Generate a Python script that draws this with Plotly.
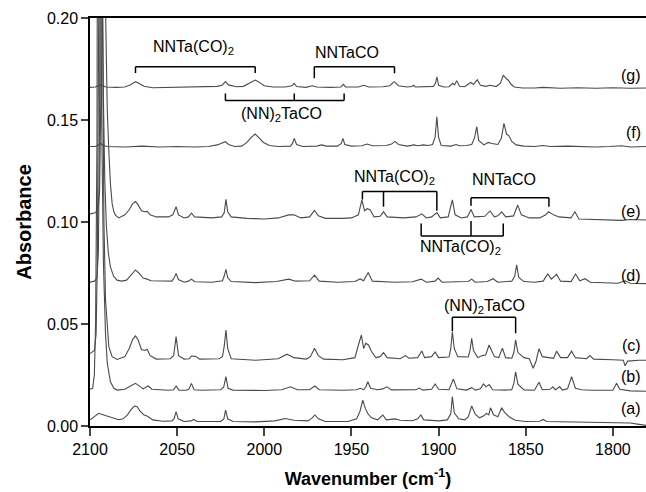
import plotly.graph_objects as go

# ---------------- data (wavenumber cm-1, absorbance) ----------------
spec_a = [(2100, 0.003), (2097.5, 0.0045), (2095, 0.0062), (2093.5, 0.0058), (2092, 0.0054), (2090, 0.0048),
          (2088.3, 0.0044), (2085.5, 0.0035), (2083.5, 0.0031), (2081, 0.0035), (2078.5, 0.0055), (2076.5, 0.008),
          (2074.5, 0.0098), (2073, 0.0095), (2071, 0.007), (2069.2, 0.0055), (2067, 0.0048), (2064, 0.003),
          (2058, 0.0023), (2053, 0.0025), (2051.8, 0.0035), (2050.6, 0.007), (2049.4, 0.0035), (2046, 0.0022),
          (2042, 0.0025), (2040.5, 0.0032), (2038.5, 0.0022), (2025, 0.0022), (2023.2, 0.0035), (2022.2, 0.0078),
          (2021, 0.0035), (2018, 0.0022), (2005, 0.002), (1994, 0.0025), (1988, 0.0037), (1983, 0.0028),
          (1975, 0.0025), (1972.5, 0.004), (1971, 0.0054), (1969, 0.0035), (1965, 0.0022), (1952, 0.0022),
          (1947, 0.0035), (1945, 0.0075), (1943.5, 0.0127), (1942, 0.0085), (1940.5, 0.006), (1938.5, 0.004),
          (1935, 0.003), (1932, 0.0054), (1930, 0.003), (1925, 0.0035), (1922, 0.0028), (1915, 0.0026),
          (1912, 0.0035), (1910.2, 0.0054), (1908.5, 0.003), (1900, 0.0025), (1895, 0.003), (1893, 0.006),
          (1892.1, 0.0144), (1891, 0.0065), (1888.5, 0.0035), (1885, 0.003), (1883, 0.0045), (1881, 0.0098),
          (1879, 0.0058), (1876.5, 0.004), (1874, 0.005), (1872.6, 0.0062), (1871.2, 0.0055), (1870.2, 0.0089),
          (1868.5, 0.0055), (1866, 0.0045), (1863.8, 0.0089), (1862, 0.0065), (1859, 0.0042), (1856, 0.0028),
          (1850, 0.0022), (1842, 0.0023), (1840, 0.0032), (1838, 0.0022), (1825, 0.002), (1810, 0.0019),
          (1800, 0.0017), (1790, 0.0015), (1785, 0.0008), (1781, 0.0003)]

spec_b = [(2100, 0.018), (2098.5, 0.0185), (2097.5, 0.025), (2096.8, 0.05), (2096, 0.14), (2095.2, 0.45),
          (2094.3, 0.3), (2093.3, 0.15), (2092.3, 0.08), (2091.1, 0.045), (2090.1, 0.031), (2088.3, 0.0217),
          (2086.3, 0.0185), (2084.4, 0.0176), (2080, 0.018), (2077, 0.0195), (2075, 0.0205), (2073.9, 0.0209),
          (2072, 0.0198), (2069.5, 0.0182), (2067.5, 0.0192), (2066.6, 0.0196), (2064.5, 0.018), (2055, 0.0175),
          (2052, 0.0178), (2050.6, 0.0196), (2049, 0.0176), (2045, 0.0175), (2043.3, 0.018), (2041.8, 0.0209),
          (2040.3, 0.0178), (2036, 0.0175), (2025, 0.0178), (2023.3, 0.019), (2022, 0.0242), (2020.8, 0.0185),
          (2018, 0.0176), (2000, 0.0174), (1990, 0.0178), (1985, 0.0192), (1981, 0.0178), (1974, 0.0178),
          (1971, 0.0196), (1968.5, 0.0178), (1955, 0.0175), (1947, 0.0178), (1945, 0.0185), (1943, 0.0178),
          (1941.8, 0.019), (1940.6, 0.0217), (1939, 0.0185), (1935, 0.0178), (1932, 0.0182), (1929.7, 0.0192),
          (1927, 0.0177), (1920, 0.0176), (1913, 0.0178), (1911, 0.0186), (1909, 0.0176), (1904, 0.018),
          (1902, 0.0206), (1900, 0.018), (1894, 0.0178), (1891.5, 0.023), (1889.5, 0.0182), (1884, 0.0176),
          (1881, 0.0188), (1879, 0.0176), (1876, 0.0182), (1874.3, 0.0206), (1872.8, 0.0192), (1871, 0.0203),
          (1869, 0.0178), (1862, 0.0176), (1858, 0.0178), (1856.8, 0.021), (1855.8, 0.0266), (1854.5, 0.0205),
          (1851, 0.0177), (1845, 0.0175), (1842.4, 0.0214), (1840.5, 0.0178), (1836, 0.018), (1834.5, 0.0192),
          (1833, 0.0178), (1830.5, 0.0192), (1829, 0.0176), (1826, 0.0182), (1823.7, 0.0242), (1821.5, 0.0185),
          (1818, 0.0178), (1812, 0.0175), (1805, 0.0174), (1800, 0.0175), (1797.9, 0.0209), (1796, 0.018),
          (1790, 0.0172), (1781, 0.017)]

spec_c = [(2100, 0.0355), (2097.5, 0.037), (2096.5, 0.045), (2095.8, 0.08), (2095, 0.2), (2094, 0.45),
          (2093, 0.22), (2092, 0.1), (2091.1, 0.062), (2090.1, 0.0487), (2089.2, 0.0389), (2087.3, 0.034),
          (2084.4, 0.0326), (2080, 0.034), (2077.5, 0.038), (2075.5, 0.0425), (2073.9, 0.0441), (2072.3, 0.042),
          (2070.5, 0.0375), (2068.5, 0.037), (2067.2, 0.0376), (2065.5, 0.0345), (2062, 0.0328), (2054, 0.033),
          (2052, 0.0345), (2050.6, 0.0438), (2049.2, 0.0345), (2046, 0.0328), (2043, 0.033), (2041.8, 0.0343),
          (2039.5, 0.0342), (2037, 0.0328), (2026, 0.033), (2024, 0.034), (2023, 0.039), (2022, 0.047),
          (2021, 0.038), (2019, 0.033), (2005, 0.0322), (1992, 0.033), (1987, 0.0352), (1983, 0.0335),
          (1976, 0.0328), (1973.5, 0.034), (1971.2, 0.0381), (1969, 0.0345), (1966, 0.0328), (1955, 0.0325),
          (1948, 0.0335), (1946, 0.0397), (1944.3, 0.0446), (1943, 0.038), (1941.8, 0.0405), (1940.2, 0.0397),
          (1938.5, 0.0365), (1936, 0.0335), (1933.5, 0.034), (1931.6, 0.036), (1929.5, 0.0335), (1922, 0.033),
          (1919, 0.0345), (1917, 0.0332), (1912, 0.0335), (1909.6, 0.0368), (1908, 0.0335), (1904, 0.034),
          (1902, 0.0363), (1900, 0.0335), (1894, 0.0338), (1893, 0.038), (1892.1, 0.0462), (1891, 0.038),
          (1889, 0.034), (1883, 0.0338), (1882, 0.037), (1881, 0.043), (1880, 0.037), (1877.5, 0.0335),
          (1875, 0.0345), (1873, 0.0348), (1871, 0.0397), (1869.6, 0.037), (1868, 0.034), (1865.5, 0.0335),
          (1863.4, 0.0381), (1861.5, 0.0335), (1858, 0.0332), (1856.8, 0.036), (1855.8, 0.0422), (1854.5, 0.036),
          (1851, 0.0335), (1848, 0.033), (1845.7, 0.0283), (1844, 0.032), (1842.4, 0.0379), (1840.5, 0.034),
          (1837, 0.0335), (1834, 0.0332), (1832.3, 0.0367), (1830, 0.0335), (1826, 0.0335), (1823.7, 0.0367),
          (1821.5, 0.0335), (1815, 0.033), (1813.2, 0.0345), (1811, 0.0328), (1800, 0.0325), (1794, 0.0322),
          (1793, 0.0295), (1791.5, 0.0318), (1785, 0.0322), (1781, 0.0322)]

spec_d = [(2100, 0.0705), (2097.5, 0.071), (2096, 0.0725), (2095.2, 0.085), (2094.5, 0.15), (2093.8, 0.4),
          (2093.1, 0.25), (2092.3, 0.16), (2091.5, 0.12), (2090.6, 0.098), (2089.5, 0.085), (2088.3, 0.078),
          (2086.5, 0.0735), (2084.5, 0.0715), (2082, 0.071), (2079, 0.0715), (2076.5, 0.074), (2073.9, 0.0765),
          (2072, 0.075), (2069.5, 0.0725), (2067.2, 0.072), (2065, 0.0712), (2053, 0.071), (2051.8, 0.0725),
          (2050.6, 0.0748), (2049.3, 0.0718), (2046, 0.0705), (2043.5, 0.071), (2041.8, 0.072), (2040, 0.0707),
          (2030, 0.0705), (2024, 0.0712), (2023, 0.0735), (2022, 0.0768), (2021, 0.0728), (2019, 0.0708),
          (2005, 0.0703), (1993, 0.0708), (1986, 0.072), (1982, 0.071), (1974, 0.0712), (1971.2, 0.074),
          (1968.5, 0.071), (1958, 0.0705), (1948, 0.0708), (1945, 0.0721), (1943, 0.0712), (1940.4, 0.0752),
          (1938, 0.071), (1925, 0.0705), (1915, 0.0707), (1910, 0.072), (1907, 0.0705), (1902, 0.071),
          (1900.3, 0.0725), (1898, 0.0705), (1890, 0.0707), (1883, 0.0708), (1881, 0.072), (1879, 0.0705),
          (1872, 0.0708), (1868.8, 0.0722), (1866, 0.0705), (1858, 0.071), (1856.3, 0.0735), (1855.2, 0.079),
          (1854, 0.0728), (1851, 0.0708), (1845, 0.0705), (1840, 0.071), (1837.4, 0.0745), (1835.3, 0.072),
          (1832.3, 0.0743), (1830, 0.071), (1824, 0.0708), (1821.4, 0.0745), (1819, 0.0712), (1816, 0.0722),
          (1813, 0.0705), (1805, 0.0702), (1797, 0.07), (1793, 0.0712), (1790, 0.070), (1781, 0.0698)]

spec_e = [(2100, 0.104), (2097, 0.1045), (2095.5, 0.106), (2094.5, 0.115), (2093.8, 0.16), (2093.2, 0.3),
          (2092.5, 0.6), (2091.8, 0.32), (2091.0, 0.2), (2090.1, 0.155), (2089.2, 0.135), (2088.3, 0.119),
          (2087.3, 0.109), (2086.3, 0.105), (2085.4, 0.1034), (2083.5, 0.102), (2080, 0.1035), (2077.5, 0.106),
          (2075.5, 0.109), (2073.9, 0.110), (2072.5, 0.1085), (2070.5, 0.1055), (2068.5, 0.105), (2067.2, 0.1052),
          (2065.5, 0.1035), (2062, 0.1025), (2055, 0.1025), (2052.5, 0.1035), (2050.6, 0.1075), (2049.2, 0.1035),
          (2046, 0.102), (2043.5, 0.1025), (2041.8, 0.1044), (2040, 0.1025), (2030, 0.102), (2024.5, 0.1025),
          (2023, 0.1045), (2022, 0.1111), (2021, 0.105), (2019, 0.1025), (2010, 0.1018), (2000, 0.1015),
          (1992, 0.102), (1986, 0.1035), (1983, 0.1035), (1979, 0.102), (1974, 0.1025), (1971.2, 0.1057),
          (1969, 0.103), (1965, 0.1018), (1955, 0.1018), (1950, 0.102), (1946, 0.1035), (1944, 0.1108),
          (1942.5, 0.1055), (1941, 0.1065), (1939.3, 0.106), (1937, 0.1025), (1933.5, 0.1028), (1931.6, 0.105),
          (1929.5, 0.1025), (1920, 0.102), (1913, 0.1025), (1909.6, 0.104), (1907, 0.102), (1904, 0.1025),
          (1901, 0.1046), (1899, 0.102), (1894.5, 0.1025), (1892.1, 0.1108), (1890.5, 0.1035), (1887, 0.102),
          (1883.5, 0.1025), (1881.4, 0.1061), (1879.5, 0.1025), (1876, 0.1025), (1873.5, 0.1028), (1870.5, 0.1054),
          (1868, 0.1025), (1866, 0.103), (1863.8, 0.105), (1861.5, 0.1025), (1857, 0.103), (1854.6, 0.1083),
          (1852.5, 0.1035), (1848, 0.102), (1842, 0.102), (1838.5, 0.1035), (1837, 0.105), (1834, 0.1035),
          (1831, 0.1025), (1824, 0.102), (1821.8, 0.105), (1819.5, 0.1015), (1812, 0.1012), (1805, 0.101),
          (1795, 0.1008), (1790, 0.1012), (1781, 0.101)]

spec_f = [(2100, 0.137), (2097, 0.137), (2095.5, 0.1375), (2094, 0.1386), (2092.5, 0.1375), (2090, 0.137),
          (2080, 0.1368), (2070, 0.1372), (2060, 0.1368), (2050, 0.137), (2040, 0.1368), (2032, 0.137),
          (2027, 0.1378), (2024, 0.1388), (2022.3, 0.1394), (2020.5, 0.138), (2017, 0.137), (2013, 0.1372),
          (2010, 0.139), (2007.5, 0.1415), (2005.2, 0.1431), (2003, 0.1412), (2000.5, 0.139), (1997, 0.1375),
          (1992, 0.137), (1985, 0.1372), (1983.8, 0.1385), (1982.8, 0.141), (1981.5, 0.138), (1978, 0.137),
          (1970, 0.1372), (1967, 0.1378), (1964.5, 0.1372), (1958, 0.1372), (1955.8, 0.1385), (1954.9, 0.141),
          (1953.8, 0.138), (1950, 0.1372), (1944, 0.1374), (1941, 0.1382), (1938, 0.1374), (1930, 0.1375),
          (1927, 0.1382), (1925, 0.1395), (1923, 0.138), (1918, 0.1372), (1914, 0.1378), (1912, 0.1374),
          (1908.7, 0.1378), (1906, 0.1375), (1903.5, 0.138), (1902, 0.1415), (1901, 0.1516), (1900, 0.1415),
          (1898.5, 0.1375), (1893, 0.1372), (1890, 0.138), (1888, 0.1374), (1884, 0.1375), (1881, 0.138),
          (1879.3, 0.1415), (1878.1, 0.1467), (1877, 0.140), (1874, 0.1378), (1871.5, 0.139), (1869.5, 0.1385),
          (1866, 0.138), (1864, 0.141), (1862.5, 0.1484), (1861, 0.143), (1859.8, 0.1425), (1858, 0.1395),
          (1855.5, 0.1378), (1851, 0.1372), (1845, 0.137), (1840, 0.1375), (1836, 0.137), (1826, 0.1372),
          (1820, 0.137), (1810, 0.1368), (1802, 0.137), (1795, 0.1374), (1790, 0.1368), (1781, 0.137)]

spec_g = [(2100, 0.166), (2097, 0.1662), (2094, 0.1672), (2091, 0.1662), (2085, 0.166), (2080, 0.1662),
          (2077, 0.1672), (2075, 0.1685), (2073.9, 0.1688), (2072, 0.168), (2069, 0.1665), (2064, 0.1658),
          (2055, 0.166), (2045, 0.1662), (2035, 0.1662), (2027, 0.1665), (2024, 0.1672), (2022.3, 0.1688),
          (2020.5, 0.1672), (2016, 0.1663), (2012, 0.1665), (2009, 0.168), (2006.5, 0.1692), (2005.2, 0.1696),
          (2003.5, 0.1688), (2000, 0.1668), (1995, 0.1662), (1988, 0.1662), (1984, 0.1668), (1982.8, 0.168),
          (1981.5, 0.1664), (1976, 0.166), (1972.5, 0.1668), (1970, 0.1662), (1962, 0.166), (1956, 0.1662),
          (1954.6, 0.1675), (1953.3, 0.1662), (1946, 0.1662), (1943, 0.167), (1940, 0.1662), (1932, 0.1663),
          (1928, 0.1668), (1925.5, 0.1688), (1923, 0.1668), (1918, 0.1662), (1915.3, 0.1664), (1914.4, 0.167),
          (1913.3, 0.1662), (1907, 0.1662), (1903, 0.1665), (1901.8, 0.168), (1901, 0.1712), (1900, 0.167),
          (1897, 0.1662), (1894, 0.1663), (1891.9, 0.168), (1890.8, 0.1672), (1889.6, 0.1693), (1888, 0.1665),
          (1885, 0.1663), (1881.6, 0.1684), (1880, 0.1675), (1877.8, 0.1697), (1876, 0.167), (1873, 0.1665),
          (1870.5, 0.167), (1867, 0.1664), (1864.5, 0.168), (1862.9, 0.172), (1861.5, 0.1705), (1860, 0.1695),
          (1858.5, 0.1675), (1856.5, 0.1662), (1852, 0.1657), (1845, 0.1657), (1840, 0.166), (1830, 0.1656),
          (1820, 0.1658), (1810, 0.1656), (1800, 0.1658), (1790, 0.1656), (1781, 0.1657)]

spectra = [("(a)", spec_a), ("(b)", spec_b), ("(c)", spec_c), ("(d)", spec_d),
           ("(e)", spec_e), ("(f)", spec_f), ("(g)", spec_g)]

# curve labels at the right edge (absorbance level of each label)
label_names = ["(a)", "(b)", "(c)", "(d)", "(e)", "(f)", "(g)"]
label_levels = [0.0087, 0.0245, 0.0397, 0.074, 0.105, 0.1438, 0.1716]
label_wn = 1782.5

# assignment brackets: (text, text_wn, text_abs, bar_abs, tick_wns, tick_end_abs)
bracket_text = ["NNTa(CO)<sub>2</sub>", "NNTaCO", "(NN)<sub>2</sub>TaCO",
                "NNTa(CO)<sub>2</sub>", "NNTaCO", "NNTa(CO)<sub>2</sub>", "(NN)<sub>2</sub>TaCO"]
bracket_text_wn = [2040.4, 1952.4, 1989.9, 1925.5, 1862.5, 1887.7, 1873.4]
bracket_text_abs = [0.1855, 0.1830, 0.1525, 0.1216, 0.1208, 0.0877, 0.0587]
bracket_bar_abs = [0.1761, 0.1761, 0.1595, 0.1149, 0.1119, 0.0931, 0.0533]
bracket_ticks_wn = [[2073.9, 2005.2], [1971.3, 1925.3], [2022.3, 1982.8, 1954.2],
                    [1943.7, 1931.6, 1901.0], [1881.4, 1836.7], [1910.0, 1881.4, 1862.9], [1892.1, 1855.8]]
bracket_ticks_end = [[0.1730, 0.1730], [0.1705, 0.1729], [0.1630, 0.1630, 0.1630],
                     [0.1110, 0.1075, 0.1055], [0.1080, 0.1075], [0.0993, 0.1005, 0.0993], [0.0465, 0.0455]]

x_tick_vals = [2100, 2050, 2000, 1950, 1900, 1850, 1800]
y_tick_vals = [0.00, 0.05, 0.10, 0.15, 0.20]

# ---------------- figure ----------------
FONT = "Liberation Sans, Arial, sans-serif"
LINE = "#4a4a4a"

fig = go.Figure()
for name, pts in spectra:
    fig.add_trace(go.Scatter(x=[p[0] for p in pts], y=[p[1] for p in pts], mode="lines",
                             name=name, line=dict(color=LINE, width=1.1), showlegend=False))

shapes = []
annotations = []
for txt, twn, tab, bar, ticks, ends in zip(bracket_text, bracket_text_wn, bracket_text_abs,
                                           bracket_bar_abs, bracket_ticks_wn, bracket_ticks_end):
    shapes.append(dict(type="line", xref="x", yref="y", x0=max(ticks), x1=min(ticks), y0=bar, y1=bar,
                       line=dict(color="black", width=1.5)))
    for w, e in zip(ticks, ends):
        shapes.append(dict(type="line", xref="x", yref="y", x0=w, x1=w, y0=bar, y1=e,
                           line=dict(color="black", width=1.5)))
    annotations.append(dict(x=twn, y=tab, xref="x", yref="y", text=txt, showarrow=False,
                            font=dict(family=FONT, size=16, color="black"), xanchor="center", yanchor="middle"))

for name, lvl in zip(label_names, label_levels):
    annotations.append(dict(x=label_wn, y=lvl, xref="x", yref="y", text=name, showarrow=False,
                            font=dict(family=FONT, size=16, color="black"), xanchor="right", yanchor="middle"))

fig.update_layout(
    width=646, height=492,
    margin=dict(l=90, r=0, t=18, b=66, autoexpand=False),
    paper_bgcolor="white", plot_bgcolor="white",
    shapes=shapes, annotations=annotations,
    font=dict(family=FONT, color="black"),
)
fig.update_xaxes(range=[2100, 1781], tickvals=x_tick_vals, ticks="outside", ticklen=8, tickwidth=1.5,
                 showline=True, linecolor="black", linewidth=1.5, mirror=True, showgrid=False, zeroline=False,
                 automargin=False,
                 tickfont=dict(family=FONT, size=16, color="black"),
                 title=dict(text="<b>Wavenumber (cm<sup>-1</sup>)</b>", font=dict(family=FONT, size=18),
                            standoff=15))
fig.update_yaxes(range=[0, 0.2], tickvals=y_tick_vals, tickformat=".2f", ticks="outside", ticklen=7,
                 tickwidth=1.5, showline=True, linecolor="black", linewidth=1.5, mirror=False,
                 showgrid=False, zeroline=False, automargin=False,
                 tickfont=dict(family=FONT, size=16, color="black"),
                 title=dict(text="<b>Absorbance</b>", font=dict(family=FONT, size=20), standoff=10))

# remove the browser's default page margin so the 646x492 figure fills the window exactly
fig.write_html("out.html", config={"displayModeBar": False},
               post_script="document.body.style.margin='0px';")
